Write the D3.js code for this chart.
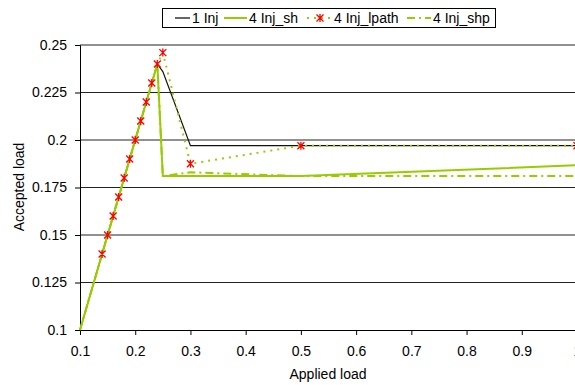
<!DOCTYPE html>
<html><head><meta charset="utf-8">
<script src="https://cdn.jsdelivr.net/npm/d3@7"></script>
<style>
html,body{margin:0;padding:0;background:#fff;}
svg{display:block;font-family:"Liberation Sans",Arial,sans-serif;}
</style></head>
<body>
<svg id="chart" width="575" height="385"></svg>
<script>
const appliedLoad = [0.1, 0.14, 0.15, 0.16, 0.17, 0.18, 0.19, 0.2, 0.21, 0.22, 0.23, 0.24, 0.25, 0.3, 0.5, 1.0];
const inj1      = [0.1, 0.14, 0.15, 0.16, 0.17, 0.18, 0.19, 0.2, 0.21, 0.22, 0.23, 0.24, 0.236, 0.197, 0.197, 0.197];
const injSh     = [0.1, 0.14, 0.15, 0.16, 0.17, 0.18, 0.19, 0.2, 0.21, 0.22, 0.23, 0.24, 0.181, 0.181, 0.181, 0.1867];
const injLpath  = [null, 0.14, 0.15, 0.16, 0.17, 0.18, 0.19, 0.2, 0.21, 0.22, 0.23, 0.24, 0.246, 0.1875, 0.197, 0.197];
const injShp    = [0.1, 0.14, 0.15, 0.16, 0.17, 0.18, 0.19, 0.2, 0.21, 0.22, 0.23, 0.24, 0.181, 0.183, 0.181, 0.181];
const seriesNames = ["1 Inj", "4 Inj_sh", "4 Inj_lpath", "4 Inj_shp"];
const xTicks = [0.1, 0.2, 0.3, 0.4, 0.5, 0.6, 0.7, 0.8, 0.9, 1];
const yTicks = [0.1, 0.125, 0.15, 0.175, 0.2, 0.225, 0.25];

const svg = d3.select("#chart");
const x = d3.scaleLinear().domain([0.1, 1.0]).range([80, 577]);
const y = d3.scaleLinear().domain([0.1, 0.25]).range([330, 45]);
const GREEN = "#99cc00";

// gridlines
svg.append("g").selectAll("line").data(yTicks.filter(d => d > 0.1)).join("line")
  .attr("x1", 80).attr("x2", 577).attr("y1", d => y(d)).attr("y2", d => y(d))
  .attr("stroke", "#222").attr("stroke-width", 1);

// axes
const xAxis = d3.axisBottom(x).tickValues(xTicks).tickSize(5).tickPadding(11)
  .tickFormat(d => d3.format("")(d));
const gx = svg.append("g").attr("transform", "translate(0,330)").call(xAxis);
const yAxis = d3.axisLeft(y).tickValues(yTicks).tickSize(5).tickPadding(8)
  .tickFormat(d => String(+d.toFixed(3)));
const gy = svg.append("g").attr("transform", "translate(80,0)").call(yAxis);
[gx, gy].forEach(g => {
  g.select(".domain").attr("stroke", "#000");
  g.selectAll(".tick line").attr("stroke", "#000");
  g.selectAll("text").attr("fill", "#000").style("font-size", "14px").style("font-family", "Liberation Sans, Arial, sans-serif");
});

svg.append("text").attr("x", 328).attr("y", 379).attr("text-anchor", "middle")
  .style("font-size", "14px").text("Applied load");
svg.append("text").attr("transform", "translate(24,187) rotate(-90)").attr("text-anchor", "middle")
  .style("font-size", "14px").text("Accepted load");

const plot = svg.append("g");
function lineFor(vals) {
  return d3.line().defined(d => d[1] !== null).x(d => x(d[0])).y(d => y(d[1]))(appliedLoad.map((v, i) => [v, vals[i]]));
}
plot.append("path").attr("d", lineFor(inj1)).attr("fill", "none").attr("stroke", "#111").attr("stroke-width", 1.2);
plot.append("path").attr("d", lineFor(injSh)).attr("fill", "none").attr("stroke", GREEN).attr("stroke-width", 2);
plot.append("path").attr("d", lineFor(injLpath)).attr("fill", "none").attr("stroke", GREEN).attr("stroke-width", 2).attr("stroke-dasharray", "2,5");
plot.append("path").attr("d", lineFor(injShp)).attr("fill", "none").attr("stroke", GREEN).attr("stroke-width", 2).attr("stroke-dasharray", "8,4,2,4");

function star(cx, cy, r) {
  return `M${cx - r},${cy - r}L${cx + r},${cy + r}M${cx - r},${cy + r}L${cx + r},${cy - r}M${cx},${cy - r - 0.5}L${cx},${cy + r + 0.5}`;
}
plot.append("g").selectAll("path").data(appliedLoad.map((v, i) => [v, injLpath[i]]).filter(d => d[1] !== null)).join("path")
  .attr("d", d => star(x(d[0]), y(d[1]), 3.5)).attr("stroke", "#ff0000").attr("stroke-width", 1.3).attr("fill", "none");

// legend
const lg = svg.append("g");
lg.append("rect").attr("x", 162.5).attr("y", 8.5).attr("width", 333).attr("height", 19)
  .attr("fill", "#fff").attr("stroke", "#000");
const items = [
  {name: seriesNames[0], x0: 175, x1: 190, tx: 192, stroke: "#333", w: 1.5, dash: null, marker: false},
  {name: seriesNames[1], x0: 224, x1: 247, tx: 249, stroke: GREEN, w: 2, dash: null, marker: false},
  {name: seriesNames[2], x0: 307, x1: 333, tx: 334, stroke: GREEN, w: 2, dash: "2,5", marker: true},
  {name: seriesNames[3], x0: 407, x1: 431, tx: 433, stroke: GREEN, w: 2, dash: "8,4,2,4", marker: false}
];
items.forEach(it => {
  lg.append("line").attr("x1", it.x0).attr("x2", it.x1).attr("y1", 18).attr("y2", 18)
    .attr("stroke", it.stroke).attr("stroke-width", it.w).attr("stroke-dasharray", it.dash);
  if (it.marker) lg.append("path").attr("d", star((it.x0 + it.x1) / 2, 18, 3.5)).attr("stroke", "#ff0000").attr("stroke-width", 1.3);
  lg.append("text").attr("x", it.tx).attr("y", 23).style("font-size", "14px").text(it.name);
});
</script>
</body></html>
